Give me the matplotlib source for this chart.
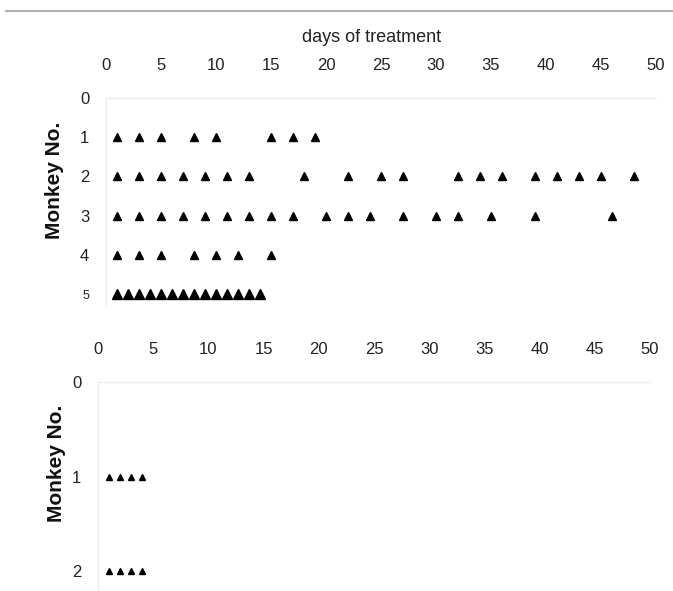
import matplotlib
matplotlib.use("Agg")
import matplotlib.pyplot as plt
from matplotlib.lines import Line2D

plt.rcParams['font.family'] = ['Liberation Sans', 'DejaVu Sans']

# days with a marker, per monkey (top panel)
top_days = {
    1: [1, 3, 5, 8, 10, 15, 17, 19],
    2: [1, 3, 5, 7, 9, 11, 13, 18, 22, 25, 27, 32, 34, 36, 39, 41, 43, 45, 48],
    3: [1, 3, 5, 7, 9, 11, 13, 15, 17, 20, 22, 24, 27, 30, 32, 35, 39, 46],
    4: [1, 3, 5, 8, 10, 12, 15],
    5: [1, 2, 3, 4, 5, 6, 7, 8, 9, 10, 11, 12, 13, 14],
}
# bottom panel
bottom_days = {
    1: [1, 2, 3, 4],
    2: [1, 2, 3, 4],
}
x_ticks = [0, 5, 10, 15, 20, 25, 30, 35, 40, 45, 50]
top_yticks = [0, 1, 2, 3, 4, 5]
bottom_yticks = [0, 1, 2]

W, H = 673, 591
fig = plt.figure(figsize=(W / 100, H / 100), dpi=100)


def box(l, t, r, b):
    return [l / W, 1 - b / H, (r - l) / W, (b - t) / H]


def style(ax, ylo):
    ax.set_xlim(0, 50)
    ax.set_ylim(ylo, 0)
    ax.xaxis.tick_top()
    ax.set_xticks(x_ticks)
    ax.tick_params(axis='both', length=0, labelsize=12, colors='#222222')
    ax.tick_params(axis='x', pad=18)
    ax.tick_params(axis='y', pad=12)
    for s in ['right', 'bottom']:
        ax.spines[s].set_visible(False)
    ax.spines['top'].set_color('#ebebeb')
    ax.spines['left'].set_color('#ebebeb')


# top panel
ax1 = fig.add_axes(box(106, 98, 656, 305))
for m, days in top_days.items():
    ms = 7.5 if m == 5 else 5.5
    ax1.plot(days, [m] * len(days), linestyle='none', marker='^',
             color='black', markersize=ms)
style(ax1, 5.28)
ax1.set_yticks(top_yticks)
ax1.get_yticklabels()[-1].set_fontsize(9)

# bottom panel
ax2 = fig.add_axes(box(98, 382, 650, 590))
for m, days in bottom_days.items():
    ax2.plot(days, [m] * len(days), linestyle='none', marker='^',
             color='black', markersize=4.5)
style(ax2, 2.2)
ax2.set_yticks(bottom_yticks)

fig.text(55 / W, 1 - 180 / H, 'Monkey No.', rotation=90, ha='center',
         va='center', fontsize=15, fontweight='bold', color='#111111')
fig.text(56 / W, 1 - 463 / H, 'Monkey No.', rotation=90, ha='center',
         va='center', fontsize=15, fontweight='bold', color='#111111')

fig.text(372 / W, 1 - 37 / H, 'days of treatment', ha='center', va='center',
         fontsize=13, color='#222222')

# gray rule along the top edge
fig.add_artist(Line2D([6 / W, 1], [1 - 11 / H, 1 - 11 / H], color='#b0b0b0',
                      linewidth=1.5))

fig.savefig('out.png', dpi=100)
